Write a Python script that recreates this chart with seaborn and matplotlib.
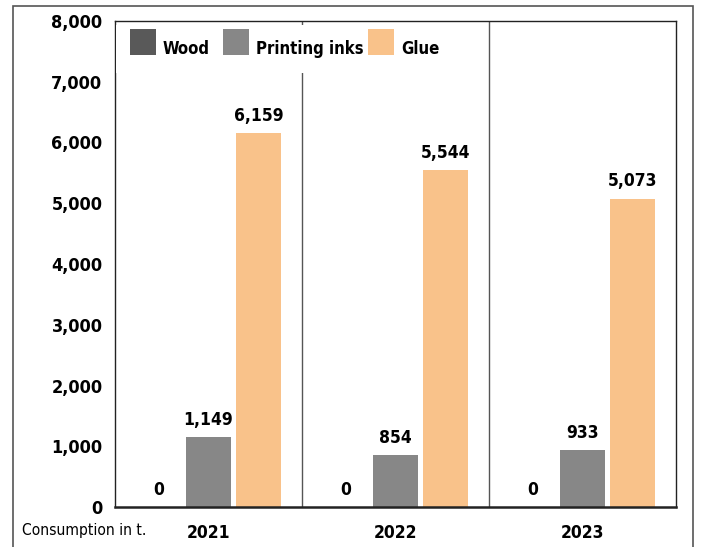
import matplotlib
matplotlib.use("Agg")
import matplotlib.pyplot as plt
from matplotlib.patches import Rectangle
import seaborn as sns
import pandas as pd

years = ["2021", "2022", "2023"]
materials = ["Wood", "Printing inks", "Glue"]
wood = [0, 0, 0]
printing_inks = [1149, 854, 933]
glue = [6159, 5544, 5073]
yticks = [0, 1000, 2000, 3000, 4000, 5000, 6000, 7000, 8000]
colors = ["#595959", "#878787", "#f9c28a"]

sns.set_theme(style="white")
plt.rcParams["font.family"] = ["DejaVu Sans"]
plt.rcParams["font.stretch"] = "condensed"
plt.rcParams["text.color"] = "black"
plt.rcParams["xtick.color"] = "black"
plt.rcParams["ytick.color"] = "black"

df = pd.DataFrame({
    "year": years * 3,
    "material": [m for m in materials for _ in years],
    "value": wood + printing_inks + glue,
})

fig = plt.figure(figsize=(7.02, 5.47), dpi=100)
W, H = 702, 547
ax = fig.add_axes([115 / W, 1 - 507 / H, (676 - 115) / W, (507 - 21) / H])

sns.barplot(data=df, x="year", y="value", hue="material", order=years,
            hue_order=materials, palette=colors, width=0.8, gap=0.1,
            saturation=1, errorbar=None, linewidth=0, legend=False, ax=ax)

ax.set_xlim(-0.5, 2.5)
ax.set_ylim(0, 8000)
ax.set_yticks(yticks)
ax.set_yticklabels([f"{v:,}" for v in yticks], fontsize=13, fontweight="bold")
ax.set_xticks(range(len(years)))
ax.set_xticklabels(years, fontsize=12.5, fontweight="bold")
ax.tick_params(axis="both", length=0)
ax.tick_params(axis="y", pad=9)
ax.tick_params(axis="x", pad=12)
ax.set_xlabel("")
ax.set_ylabel("")

for side in ["top", "right", "left"]:
    ax.spines[side].set_color("#222222")
    ax.spines[side].set_linewidth(1.0)
ax.spines["bottom"].set_color("#222222")
ax.spines["bottom"].set_linewidth(1.8)

# group separators
for xs in [0.5, 1.5]:
    ax.axvline(xs, color="#555555", linewidth=1.0, zorder=0)

# value labels
for container in ax.containers:
    for bar in container:
        h = bar.get_height()
        ax.annotate(f"{h:,.0f}", (bar.get_x() + bar.get_width() / 2, h),
                    xytext=(0, 6), textcoords="offset points",
                    ha="center", va="bottom", fontsize=12.5, fontweight="bold")

# legend: white panel with colour swatches and labels
aw, ah = 676 - 115, 507 - 21
def fx(px):
    return (px - 115) / aw
def fy(py):
    return (507 - py) / ah

ax.add_patch(Rectangle((fx(116), fy(73)), fx(450) - fx(116), fy(25) - fy(73),
                       transform=ax.transAxes, facecolor="white",
                       edgecolor="none", zorder=4))
swatch_x = [130, 223, 368]
for sx, name, col in zip(swatch_x, materials, colors):
    ax.add_patch(Rectangle((fx(sx), fy(55)), fx(sx + 26) - fx(sx), fy(29) - fy(55),
                           transform=ax.transAxes, facecolor=col,
                           edgecolor="none", zorder=5))
    ax.text(fx(sx + 33), fy(54), name, transform=ax.transAxes, ha="left",
            va="baseline", fontsize=12, fontweight="bold", zorder=6)

fig.text(22 / W, 1 - 530 / H, "Consumption in t.", fontsize=11.2, va="center", ha="left")

# outer frame
fig.patches.append(Rectangle((13 / W, -0.05), (693 - 13) / W, (1 - 6 / H) + 0.05,
                             transform=fig.transFigure, fill=False,
                             edgecolor="#555555", linewidth=1.2))

fig.savefig("out.png", dpi=100)
